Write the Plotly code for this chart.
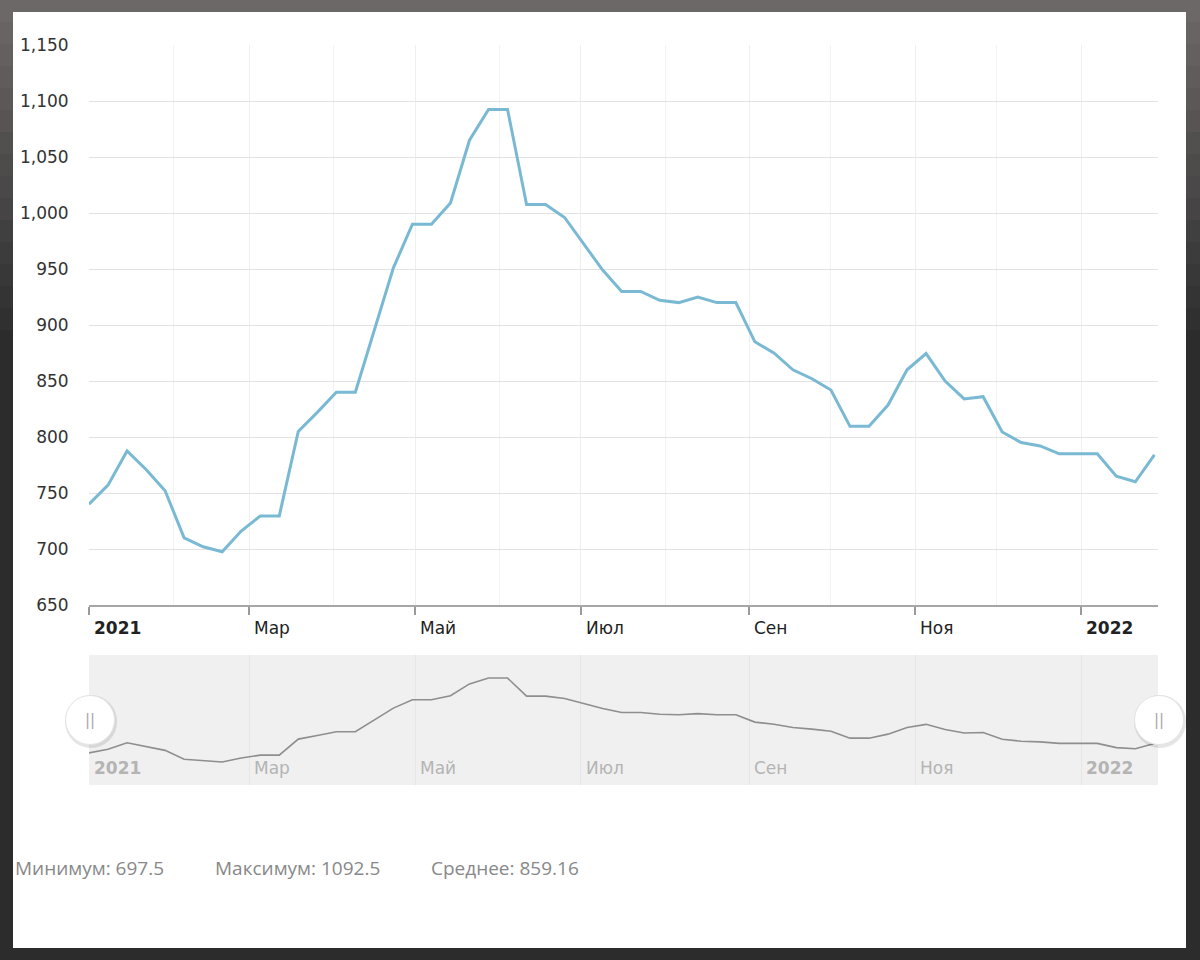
import plotly.graph_objects as go
import pandas as pd

# ---------------- data ----------------
dates = pd.date_range("2021-01-01", periods=57, freq="7D")
prices = [740, 757, 787.5, 771, 752, 710, 702, 697.5, 716, 729.5,
          729.5, 805, 822, 840, 840, 895, 951, 990, 990, 1009,
          1065, 1092.5, 1092.5, 1007.5, 1007.5, 996, 973, 949, 930, 930,
          922, 920, 925, 920, 920, 885, 875, 860, 852, 842,
          809.5, 809.5, 828.5, 860, 874.5, 850, 834, 836, 804.5, 795,
          792, 785, 785, 785, 765, 760, 784]

tick_dates = ["2021-01-01", "2021-03-01", "2021-05-01", "2021-07-01",
              "2021-09-01", "2021-11-01", "2022-01-01"]
tick_labels = ["2021", "Мар", "Май", "Июл", "Сен", "Ноя", "2022"]
tick_bold = [True, False, False, False, False, False, True]

stat_labels = ["Минимум: 697.5", "Максимум: 1092.5", "Среднее: 859.16"]

# ---------------- geometry helpers ----------------
W, H = 1200, 960
def px(x):
    return x / W
def py(y):
    return 1 - y / H

x_range = ["2021-01-01", "2022-01-29 08:00"]
FONT = "DejaVu Sans"

fig = go.Figure()

fig.add_trace(go.Scatter(
    x=dates, y=prices, mode="lines",
    line=dict(color="#79b9d3", width=3),
    xaxis="x", yaxis="y", showlegend=False, hoverinfo="x+y"))

fig.add_trace(go.Scatter(
    x=dates, y=prices, mode="lines",
    line=dict(color="#8e8e8e", width=1.6),
    xaxis="x2", yaxis="y2", showlegend=False, hoverinfo="skip"))

shapes = []
# dark frame with top-down gradient
n_b = 16
top_c = (108, 104, 103)
bot_c = (44, 44, 44)
for i in range(n_b):
    t = i / (n_b - 1)
    c = tuple(int(round(top_c[k] + (bot_c[k] - top_c[k]) * t)) for k in range(3))
    y0 = i * 22
    y1 = (i + 1) * 22 if i < n_b - 1 else H
    shapes.append(dict(type="rect", xref="paper", yref="paper",
                       x0=0, x1=1, y0=py(y1), y1=py(y0),
                       fillcolor="rgb(%d,%d,%d)" % c, line=dict(width=0),
                       layer="below"))
# white panel
shapes.append(dict(type="rect", xref="paper", yref="paper",
                   x0=px(13), x1=px(1186), y0=py(948), y1=py(12),
                   fillcolor="white", line=dict(width=0), layer="below"))
# navigator background
shapes.append(dict(type="rect", xref="x2 domain", yref="y2 domain",
                   x0=0, x1=1, y0=0, y1=1,
                   fillcolor="#f0f0f0", line=dict(width=0), layer="below"))
# navigator handles
for hx in (90, 1159):
    shapes.append(dict(type="circle", xref="paper", yref="paper",
                       xsizemode="pixel", ysizemode="pixel",
                       xanchor=px(hx), yanchor=py(720),
                       x0=-25, x1=27, y0=-28, y1=25,
                       fillcolor="rgba(0,0,0,0.10)", line=dict(width=0),
                       layer="above"))
    shapes.append(dict(type="circle", xref="paper", yref="paper",
                       xsizemode="pixel", ysizemode="pixel",
                       xanchor=px(hx), yanchor=py(720),
                       x0=-24.5, x1=24.5, y0=-24.5, y1=24.5,
                       fillcolor="white", line=dict(color="#e4e4e4", width=1),
                       layer="above"))

annotations = []
for d, lab, b in zip(tick_dates, tick_labels, tick_bold):
    annotations.append(dict(
        x=d, y=py(628), xref="x", yref="paper", xanchor="left", yanchor="middle",
        xshift=3, showarrow=False,
        text="<b>%s</b>" % lab if b else lab,
        font=dict(family=FONT, size=17, color="#222222")))
    annotations.append(dict(
        x=d, y=py(768), xref="x2", yref="paper", xanchor="left", yanchor="middle",
        xshift=3, showarrow=False,
        text="<b>%s</b>" % lab if b else lab,
        font=dict(family=FONT, size=17, color="#b4b4b4")))

for hx in (90, 1159):
    annotations.append(dict(
        x=px(hx), y=py(720), xref="paper", yref="paper",
        xanchor="center", yanchor="middle", showarrow=False,
        text="||", font=dict(family=FONT, size=15, color="#a8a8a8")))

for sx, s in zip((15, 215, 431), stat_labels):
    annotations.append(dict(
        x=px(sx), y=py(868), xref="paper", yref="paper",
        xanchor="left", yanchor="middle", showarrow=False, xshift=-2,
        text=s, font=dict(family="Open Sans", size=19, color="#888888")))

fig.update_layout(
    width=W, height=H,
    margin=dict(l=0, r=0, t=0, b=0, pad=0, autoexpand=False),
    paper_bgcolor="#2c2c2c",
    plot_bgcolor="rgba(0,0,0,0)",
    font=dict(family=FONT, size=17, color="#333333"),
    shapes=shapes,
    annotations=annotations,
    showlegend=False,
    xaxis=dict(
        domain=[px(89), px(1158)],
        type="date", range=x_range,
        tick0="2021-01-01", dtick="M2",
        showticklabels=False,
        ticks="outside", ticklen=8, tickwidth=1.5, tickcolor="#9a9a9a",
        showgrid=True, gridcolor="#efefef", gridwidth=1,
        minor=dict(dtick="M1", showgrid=True, gridcolor="#f3f3f3", gridwidth=1),
        showline=True, linecolor="#a6a6a6", linewidth=2,
        zeroline=False, anchor="y", fixedrange=True),
    yaxis=dict(
        domain=[py(605), py(45)],
        range=[650, 1150], dtick=50, tickformat=",",
        ticks="outside", ticklen=16, tickcolor="rgba(0,0,0,0)",
        tickfont=dict(family=FONT, size=17, color="#333333"),
        showgrid=True, gridcolor="#e2e2e2", gridwidth=1,
        zeroline=False, showline=False, anchor="x", fixedrange=True),
    xaxis2=dict(
        domain=[px(89), px(1158)],
        type="date", range=x_range,
        tick0="2021-01-01", dtick="M2",
        showticklabels=False, ticks="",
        showgrid=True, gridcolor="#e6e6e6", gridwidth=1,
        showline=False, zeroline=False, anchor="y2", fixedrange=True),
    yaxis2=dict(
        domain=[py(785), py(655)],
        range=[589, 1201],
        showticklabels=False, ticks="", showgrid=False,
        zeroline=False, showline=False, anchor="x2", fixedrange=True),
)

fig.write_html("out.html")
